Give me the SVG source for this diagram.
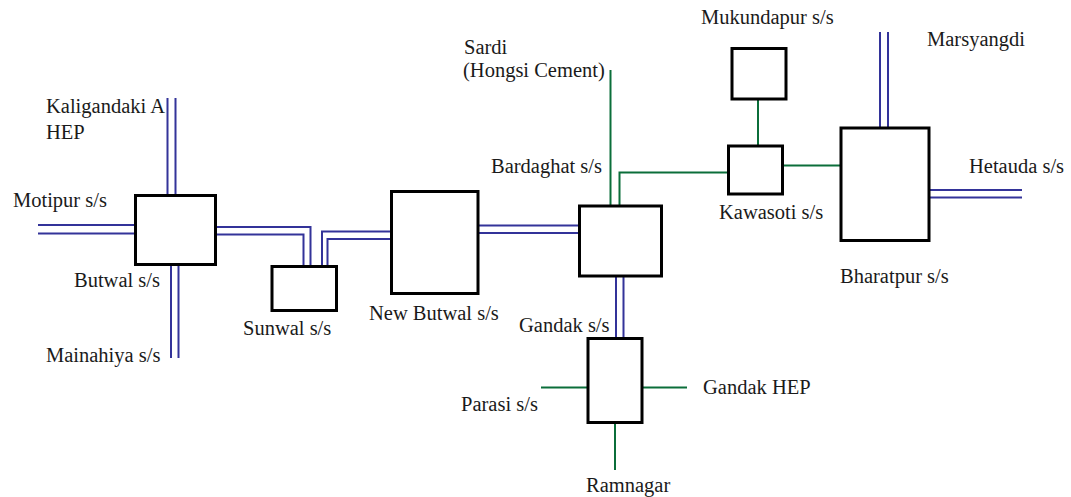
<svg xmlns="http://www.w3.org/2000/svg" width="1071" height="497" viewBox="0 0 1071 497">
<style>
.box{fill:#fff;stroke:#000;stroke-width:3}
.hv{fill:none;stroke:#333399;stroke-width:2}
.gr{fill:none;stroke:#0b6e3a;stroke-width:2}
text{font-family:"Liberation Serif","Times New Roman",serif;font-size:20.5px;fill:#1a1a1a}
</style>
<rect width="1071" height="497" fill="#fff"/>
<g id="connectors">
<path class="hv" d="M167.5 98V195M175.5 98V195"/>
<path class="hv" d="M38 225H135M38 233.5H135"/>
<path class="hv" d="M171 265V358M178.5 265V358"/>
<path class="hv" d="M216 227H310.5V266M216 234.5H303.5V266"/>
<path class="hv" d="M322 266V231.5H391M327.5 266V239H391"/>
<path class="hv" d="M478 225.5H579M478 233H579"/>
<path class="hv" d="M616 276V338M623.5 276V338"/>
<path class="hv" d="M880 32V128M888 32V128"/>
<path class="hv" d="M929 190H1022M929 197.5H1022"/>
<path class="gr" d="M610.5 70V206"/>
<path class="gr" d="M619.5 206V172.5H728"/>
<path class="gr" d="M758 99V146"/>
<path class="gr" d="M782 165.5H841"/>
<path class="gr" d="M541 387.5H588M642 387.5H687"/>
<path class="gr" d="M615 423V470"/>
</g>
<g id="butwal"><rect class="box" x="135.5" y="195.5" width="80" height="69"/><text x="74" y="287">Butwal s/s</text></g>
<g id="kaligandaki"><text x="46" y="113">Kaligandaki A</text><text x="46" y="139">HEP</text></g>
<g id="motipur"><text x="13" y="207">Motipur s/s</text></g>
<g id="mainahiya"><text x="46" y="362">Mainahiya s/s</text></g>
<g id="sunwal"><rect class="box" x="272" y="266.5" width="64.5" height="44"/><text x="243" y="335">Sunwal s/s</text></g>
<g id="newbutwal"><rect class="box" x="391.5" y="191.5" width="86.5" height="102"/><text x="369" y="320">New Butwal s/s</text></g>
<g id="sardi"><text x="464" y="54">Sardi</text><text x="463" y="77">(Hongsi Cement)</text></g>
<g id="bardaghat"><rect class="box" x="579.5" y="206" width="82" height="70"/><text x="491" y="173">Bardaghat s/s</text></g>
<g id="mukundapur"><rect class="box" x="732" y="48.5" width="54" height="50.5"/><text x="701" y="24">Mukundapur s/s</text></g>
<g id="kawasoti"><rect class="box" x="728.5" y="146" width="54" height="48"/><text x="719" y="219">Kawasoti s/s</text></g>
<g id="bharatpur"><rect class="box" x="841" y="128" width="88" height="112.5"/><text x="840" y="283">Bharatpur s/s</text></g>
<g id="marsyangdi"><text x="927" y="46">Marsyangdi</text></g>
<g id="hetauda"><text x="969" y="173">Hetauda s/s</text></g>
<g id="gandak"><rect class="box" x="588" y="338.5" width="54" height="84"/><text x="519" y="332">Gandak s/s</text></g>
<g id="gandakhep"><text x="703" y="394">Gandak HEP</text></g>
<g id="parasi"><text x="461" y="411">Parasi s/s</text></g>
<g id="ramnagar"><text x="586" y="492">Ramnagar</text></g>
</svg>
